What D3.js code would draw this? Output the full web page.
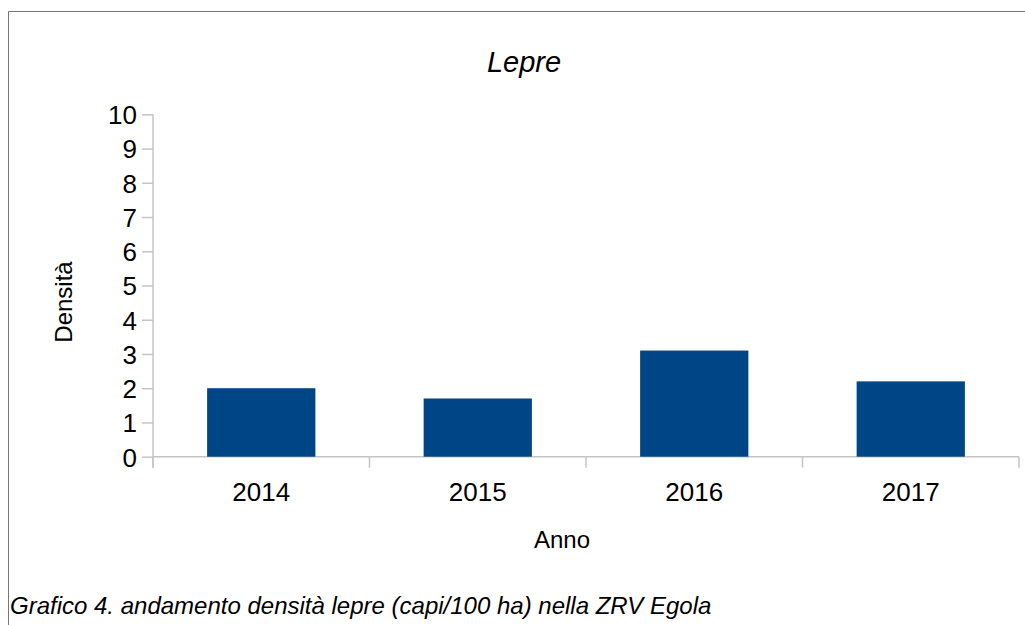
<!DOCTYPE html>
<html><head><meta charset="utf-8">
<script src="https://cdn.jsdelivr.net/npm/d3@7"></script>
<style>body{margin:0;background:#fff}svg{display:block}text{font-family:"Liberation Sans",Arial,sans-serif;fill:#000}</style>
</head><body>
<script>
const categories = ["2014","2015","2016","2017"];
const values = [2.0, 1.7, 3.1, 2.2];
const yTicks = [0,1,2,3,4,5,6,7,8,9,10];
const titleText = "Lepre";
const xTitle = "Anno";
const yTitle = "Densità";
const captionText = "Grafico 4. andamento densità lepre (capi/100 ha) nella ZRV Egola";

const W = 1025, H = 625;
const svg = d3.select("body").append("svg").attr("width", W).attr("height", H);

// frame
svg.append("line").attr("x1",8.5).attr("x2",W).attr("y1",11.5).attr("y2",11.5).attr("stroke","#777").attr("stroke-width",1);
svg.append("line").attr("x1",8.5).attr("x2",8.5).attr("y1",11.5).attr("y2",H).attr("stroke","#777").attr("stroke-width",1);

const m = {left:153, right:1019, top:114.3, bottom:456.7};
const x = d3.scaleBand().domain(categories).range([m.left, m.right]).paddingInner(0.5).paddingOuter(0.25);
const xb = d3.scaleBand().domain(categories).range([m.left, m.right]);
const y = d3.scaleLinear().domain([0,10]).range([m.bottom, m.top]);

const axisColor = "#c4c4c4";
// y axis
const gy = svg.append("g").attr("transform",`translate(${m.left},0)`)
  .call(d3.axisLeft(y).tickValues(yTicks).tickSize(11).tickPadding(5).tickFormat(d3.format("d")));
gy.select(".domain").remove();
gy.selectAll(".tick line").attr("stroke",axisColor).attr("stroke-width",1.5);
gy.selectAll(".tick text").attr("font-size",26).attr("font-family","Liberation Sans, Arial, sans-serif").attr("fill","#000").attr("dy","0.36em");
svg.append("line").attr("x1",m.left).attr("x2",m.left).attr("y1",m.top).attr("y2",m.bottom+11).attr("stroke",axisColor).attr("stroke-width",1.5);

// x axis
svg.append("line").attr("x1",m.left).attr("x2",m.right).attr("y1",m.bottom).attr("y2",m.bottom).attr("stroke",axisColor).attr("stroke-width",1.5);
const bounds = categories.map(c => xb(c)).concat([xb(categories[categories.length-1]) + xb.bandwidth()]);
svg.selectAll(".xtick").data(bounds).enter().append("line")
  .attr("x1",d=>d).attr("x2",d=>d).attr("y1",m.bottom).attr("y2",m.bottom+11)
  .attr("stroke",axisColor).attr("stroke-width",1.5);

// bars
svg.selectAll(".bar").data(values).enter().append("rect")
  .attr("x",(d,i)=>x(categories[i])).attr("width",x.bandwidth())
  .attr("y",d=>y(d)).attr("height",d=>y(0)-y(d)).attr("fill","#004586");

svg.selectAll(".xl").data(categories).enter().append("text")
  .attr("x",d=>xb(d)+xb.bandwidth()/2).attr("y",501).attr("text-anchor","middle").attr("font-size",26).text(d=>d);

svg.append("text").attr("x",524).attr("y",72).attr("text-anchor","middle").attr("font-size",29).attr("font-style","italic").text(titleText);
svg.append("text").attr("x",562).attr("y",548).attr("text-anchor","middle").attr("font-size",24).text(xTitle);
svg.append("text").attr("transform","translate(72,302) rotate(-90)").attr("text-anchor","middle").attr("font-size",24).text(yTitle);
svg.append("text").attr("x",10).attr("y",614).attr("font-size",24).attr("font-style","italic").text(captionText);
</script>
</body></html>
